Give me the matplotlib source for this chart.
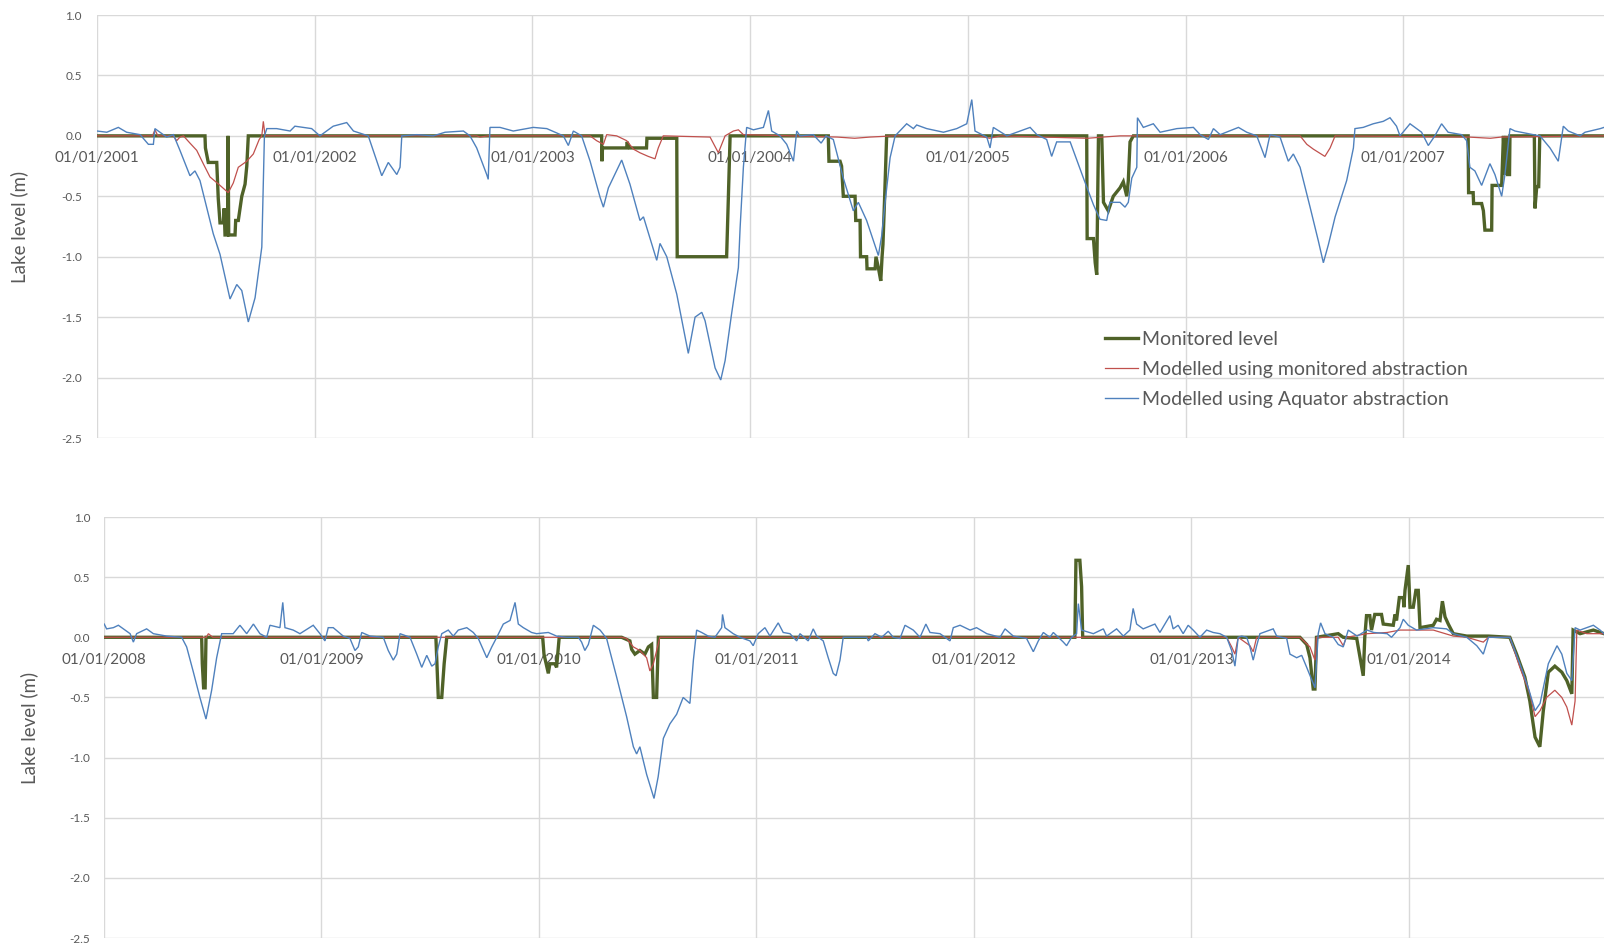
import numpy as np
import matplotlib
matplotlib.use('Agg')
import matplotlib.pyplot as plt

# (decimal year, lake level in m)
monitored_0107 = [
    (2001.000, 0.0), (2001.496, 0.0), (2001.498, -0.10), (2001.511, -0.22), (2001.550, -0.22),
    (2001.557, -0.52), (2001.565, -0.72), (2001.580, -0.72), (2001.584, -0.60), (2001.588, -0.82),
    (2001.600, -0.82), (2001.602, 0.0), (2001.605, -0.82), (2001.634, -0.82), (2001.637, -0.70),
    (2001.649, -0.70), (2001.657, -0.60), (2001.665, -0.50), (2001.680, -0.40), (2001.688, -0.25),
    (2001.695, 0.0),
    (2003.318, 0.0), (2003.319, -0.21), (2003.322, -0.10), (2003.433, -0.10), (2003.435, -0.05),
    (2003.445, -0.10), (2003.524, -0.10), (2003.526, -0.02), (2003.663, -0.02), (2003.665, -1.0),
    (2003.892, -1.0), (2003.900, -0.51), (2003.908, 0.0),
    (2004.359, 0.0), (2004.362, -0.21), (2004.413, -0.21), (2004.420, -0.25), (2004.428, -0.50),
    (2004.482, -0.50), (2004.485, -0.70), (2004.505, -0.70), (2004.507, -1.0), (2004.535, -1.0),
    (2004.537, -1.10), (2004.574, -1.10), (2004.578, -1.0), (2004.590, -1.10), (2004.600, -1.20),
    (2004.606, -1.0), (2004.610, -0.90), (2004.617, -0.55), (2004.627, 0.0),
    (2005.546, 0.0), (2005.548, -0.85), (2005.577, -0.85), (2005.585, -1.05), (2005.592, -1.15),
    (2005.600, 0.0), (2005.615, 0.0), (2005.623, -0.55), (2005.645, -0.62), (2005.668, -0.50),
    (2005.699, -0.43), (2005.714, -0.38), (2005.730, -0.50), (2005.737, -0.37), (2005.745, -0.05),
    (2005.760, 0.0),
    (2007.298, 0.0), (2007.300, -0.47), (2007.321, -0.47), (2007.323, -0.56), (2007.360, -0.56),
    (2007.368, -0.62), (2007.375, -0.78), (2007.406, -0.78), (2007.408, -0.41), (2007.452, -0.41),
    (2007.460, 0.0), (2007.467, -0.32), (2007.474, 0.0), (2007.479, -0.32), (2007.488, -0.32),
    (2007.490, 0.0), (2007.602, 0.0), (2007.605, -0.60), (2007.613, -0.42), (2007.622, -0.42),
    (2007.627, 0.0), (2007.922, 0.0),
]

modelled_mon_0107 = [
    (2001.000, 0.0), (2001.255, 0.0), (2001.266, 0.05), (2001.280, 0.0), (2001.351, 0.0),
    (2001.366, -0.04), (2001.381, -0.01), (2001.397, 0.0), (2001.427, -0.06), (2001.458, -0.12),
    (2001.488, -0.23), (2001.519, -0.34), (2001.565, -0.41), (2001.603, -0.47), (2001.626, -0.39),
    (2001.649, -0.26), (2001.688, -0.21), (2001.718, -0.15), (2001.745, -0.03), (2001.757, 0.0),
    (2001.764, 0.12), (2001.772, 0.0),
    (2002.744, 0.0), (2002.759, -0.01), (2002.797, 0.0),
    (2003.265, 0.0), (2003.295, -0.04), (2003.326, -0.07), (2003.341, 0.01), (2003.387, 0.0),
    (2003.433, -0.04), (2003.464, -0.11), (2003.494, -0.14), (2003.532, -0.17), (2003.563, -0.19),
    (2003.578, -0.10), (2003.601, 0.0), (2003.816, -0.01), (2003.854, -0.14), (2003.885, 0.0),
    (2003.923, 0.04), (2003.946, 0.05), (2003.969, 0.01),
    (2004.400, -0.01), (2004.480, -0.02), (2004.550, -0.01), (2004.660, 0.0), (2005.050, 0.0),
    (2005.100, -0.02), (2005.150, 0.0), (2005.550, -0.02), (2005.620, -0.01), (2005.700, 0.0),
    (2006.526, 0.0), (2006.557, -0.07), (2006.587, -0.11), (2006.640, -0.17), (2006.664, -0.10),
    (2006.687, 0.0), (2007.300, -0.01), (2007.400, -0.02), (2007.450, -0.01), (2007.922, 0.0),
]

aquator_0107 = [
    (2001.000, 0.04), (2001.045, 0.03), (2001.098, 0.07), (2001.136, 0.03), (2001.198, 0.01),
    (2001.236, -0.07), (2001.259, -0.07), (2001.266, 0.06), (2001.305, 0.01), (2001.320, -0.01),
    (2001.351, 0.01), (2001.381, -0.12), (2001.427, -0.33), (2001.450, -0.29), (2001.473, -0.37),
    (2001.534, -0.81), (2001.565, -0.98), (2001.611, -1.35), (2001.642, -1.23), (2001.665, -1.28),
    (2001.695, -1.54), (2001.726, -1.34), (2001.757, -0.92), (2001.769, 0.0), (2001.780, 0.06),
    (2001.825, 0.06), (2001.887, 0.04), (2001.909, 0.08), (2001.986, 0.06), (2002.024, 0.0),
    (2002.085, 0.08), (2002.147, 0.11), (2002.178, 0.04), (2002.246, 0.0), (2002.308, -0.33),
    (2002.338, -0.22), (2002.377, -0.32), (2002.392, -0.26), (2002.400, 0.0), (2002.469, 0.01),
    (2002.545, 0.0), (2002.599, 0.03), (2002.683, 0.04), (2002.713, 0.0), (2002.744, -0.10),
    (2002.790, -0.32), (2002.797, -0.36), (2002.805, 0.07), (2002.851, 0.07), (2002.912, 0.04),
    (2003.004, 0.07), (2003.066, 0.06), (2003.142, 0.0), (2003.165, -0.08), (2003.188, 0.04),
    (2003.226, 0.0), (2003.265, -0.21), (2003.311, -0.51), (2003.326, -0.59), (2003.349, -0.43),
    (2003.410, -0.20), (2003.448, -0.40), (2003.494, -0.70), (2003.510, -0.67), (2003.571, -1.03),
    (2003.586, -0.89), (2003.617, -1.00), (2003.663, -1.31), (2003.716, -1.80), (2003.747, -1.50),
    (2003.778, -1.46), (2003.793, -1.53), (2003.839, -1.92), (2003.865, -2.02), (2003.885, -1.86),
    (2003.915, -1.47), (2003.946, -1.09), (2003.954, -0.76), (2003.969, -0.26), (2003.984, 0.07),
    (2004.015, 0.05), (2004.061, 0.07), (2004.084, 0.21), (2004.099, 0.04), (2004.137, 0.0),
    (2004.168, -0.07), (2004.199, -0.21), (2004.214, 0.04), (2004.229, 0.0), (2004.290, 0.01),
    (2004.326, -0.06), (2004.349, 0.0), (2004.382, -0.03), (2004.428, -0.35), (2004.474, -0.62),
    (2004.497, -0.55), (2004.535, -0.70), (2004.589, -0.99), (2004.604, -0.83), (2004.620, -0.55),
    (2004.643, -0.18), (2004.666, 0.0), (2004.719, 0.10), (2004.750, 0.06), (2004.765, 0.09),
    (2004.811, 0.06), (2004.888, 0.03), (2004.949, 0.06), (2004.995, 0.10), (2005.018, 0.30),
    (2005.033, 0.04), (2005.087, -0.01), (2005.102, -0.10), (2005.117, 0.07), (2005.179, 0.0),
    (2005.286, 0.07), (2005.317, 0.01), (2005.362, -0.03), (2005.385, -0.17), (2005.408, -0.05),
    (2005.470, -0.05), (2005.531, -0.35), (2005.577, -0.57), (2005.607, -0.69), (2005.638, -0.70),
    (2005.653, -0.55), (2005.699, -0.55), (2005.722, -0.59), (2005.737, -0.55), (2005.753, -0.35),
    (2005.776, -0.26), (2005.779, 0.15), (2005.806, 0.07), (2005.852, 0.10), (2005.883, 0.03),
    (2005.960, 0.06), (2006.036, 0.07), (2006.067, 0.01), (2006.105, -0.03), (2006.128, 0.06),
    (2006.159, 0.01), (2006.243, 0.07), (2006.281, 0.03), (2006.327, 0.0), (2006.365, -0.18),
    (2006.388, 0.01), (2006.434, -0.01), (2006.472, -0.21), (2006.495, -0.15), (2006.526, -0.26),
    (2006.572, -0.59), (2006.610, -0.87), (2006.633, -1.05), (2006.656, -0.90), (2006.687, -0.67),
    (2006.740, -0.37), (2006.771, -0.10), (2006.778, 0.06), (2006.816, 0.07), (2006.862, 0.10),
    (2006.908, 0.12), (2006.939, 0.15), (2006.969, 0.08), (2006.985, 0.0), (2007.031, 0.10),
    (2007.084, 0.03), (2007.115, -0.08), (2007.145, 0.0), (2007.176, 0.10), (2007.206, 0.03),
    (2007.268, 0.01), (2007.291, -0.04), (2007.306, -0.26), (2007.329, -0.29), (2007.360, -0.41),
    (2007.398, -0.23), (2007.421, -0.32), (2007.452, -0.50), (2007.467, -0.32), (2007.490, 0.06),
    (2007.513, 0.04), (2007.597, 0.01), (2007.628, 0.0), (2007.674, -0.10), (2007.712, -0.21),
    (2007.735, 0.08), (2007.758, 0.04), (2007.812, 0.0), (2007.835, 0.03), (2007.905, 0.06),
    (2007.922, 0.07),
]

monitored_0814 = [
    (2008.000, 0.0), (2008.449, 0.0), (2008.452, -0.22), (2008.458, -0.42), (2008.465, -0.42),
    (2008.469, 0.0), (2009.526, 0.0), (2009.537, -0.50), (2009.553, -0.50), (2009.564, -0.22),
    (2009.576, 0.0), (2010.017, 0.0), (2010.023, -0.14), (2010.043, -0.30), (2010.050, -0.22),
    (2010.073, -0.22), (2010.081, -0.25), (2010.093, 0.0), (2010.380, 0.0), (2010.418, -0.03),
    (2010.426, -0.10), (2010.441, -0.14), (2010.464, -0.11), (2010.487, -0.14), (2010.503, -0.08),
    (2010.518, -0.06), (2010.526, -0.50), (2010.541, -0.50), (2010.549, 0.0),
    (2012.464, 0.0), (2012.469, 0.64), (2012.487, 0.64), (2012.495, 0.42), (2012.500, 0.0),
    (2013.499, 0.0), (2013.530, -0.06), (2013.545, -0.17), (2013.560, -0.43), (2013.568, -0.43),
    (2013.575, 0.0), (2013.675, 0.03), (2013.698, 0.0), (2013.760, -0.01), (2013.790, -0.32),
    (2013.797, 0.0), (2013.805, 0.18), (2013.820, 0.18), (2013.828, 0.06), (2013.843, 0.19),
    (2013.874, 0.19), (2013.882, 0.11), (2013.928, 0.10), (2013.936, 0.19), (2013.943, 0.14),
    (2013.956, 0.33), (2013.974, 0.33), (2013.977, 0.25), (2013.982, 0.39), (2013.997, 0.60),
    (2014.005, 0.25), (2014.020, 0.25), (2014.032, 0.39), (2014.043, 0.39), (2014.051, 0.08),
    (2014.112, 0.10), (2014.127, 0.15), (2014.143, 0.14), (2014.154, 0.30), (2014.166, 0.17),
    (2014.181, 0.11), (2014.204, 0.03), (2014.266, 0.01), (2014.366, 0.01), (2014.464, 0.0),
    (2014.495, -0.14), (2014.533, -0.33), (2014.556, -0.53), (2014.580, -0.83), (2014.602, -0.91),
    (2014.618, -0.61), (2014.641, -0.29), (2014.671, -0.24), (2014.703, -0.29), (2014.726, -0.36),
    (2014.749, -0.47), (2014.755, 0.06), (2014.787, 0.03), (2014.848, 0.06), (2014.897, 0.03),
]

modelled_mon_0814 = [
    (2008.000, 0.0), (2008.470, 0.0), (2008.480, 0.03), (2008.500, 0.0), (2010.380, 0.0),
    (2010.403, -0.01), (2010.434, -0.08), (2010.464, -0.11), (2010.495, -0.17), (2010.510, -0.28),
    (2010.526, -0.22), (2010.548, -0.06), (2010.556, 0.0), (2013.162, 0.0), (2013.185, -0.08),
    (2013.200, -0.14), (2013.215, 0.0), (2013.269, -0.07), (2013.284, -0.12), (2013.300, 0.0),
    (2013.499, 0.0), (2013.545, -0.08), (2013.568, -0.19), (2013.575, 0.0), (2013.675, 0.0),
    (2013.698, -0.07), (2013.713, 0.0), (2013.808, 0.03), (2013.900, 0.04), (2013.959, 0.06),
    (2014.035, 0.06), (2014.112, 0.06), (2014.204, 0.01), (2014.266, 0.0), (2014.342, -0.04),
    (2014.366, 0.0), (2014.464, 0.0), (2014.510, -0.25), (2014.556, -0.47), (2014.580, -0.66),
    (2014.603, -0.61), (2014.633, -0.50), (2014.671, -0.44), (2014.703, -0.50), (2014.726, -0.58),
    (2014.749, -0.73), (2014.764, -0.53), (2014.772, 0.06), (2014.818, 0.03), (2014.897, 0.03),
]

aquator_0814 = [
    (2008.001, 0.11), (2008.012, 0.07), (2008.043, 0.08), (2008.066, 0.10), (2008.097, 0.06),
    (2008.120, 0.03), (2008.135, -0.04), (2008.150, 0.03), (2008.196, 0.07), (2008.227, 0.03),
    (2008.288, 0.01), (2008.357, 0.0), (2008.380, -0.08), (2008.411, -0.29), (2008.441, -0.50),
    (2008.469, -0.68), (2008.495, -0.44), (2008.518, -0.17), (2008.541, 0.03), (2008.594, 0.03),
    (2008.625, 0.10), (2008.656, 0.03), (2008.687, 0.11), (2008.717, 0.03), (2008.748, 0.0),
    (2008.763, 0.10), (2008.809, 0.08), (2008.822, 0.29), (2008.832, 0.08), (2008.870, 0.06),
    (2008.901, 0.03), (2008.962, 0.10), (2008.993, 0.03), (2009.016, -0.03), (2009.031, 0.08),
    (2009.054, 0.08), (2009.100, 0.01), (2009.131, -0.01), (2009.154, -0.11), (2009.169, -0.08),
    (2009.185, 0.04), (2009.223, 0.01), (2009.284, 0.0), (2009.307, -0.11), (2009.330, -0.19),
    (2009.346, -0.14), (2009.361, 0.03), (2009.407, 0.0), (2009.438, -0.14), (2009.461, -0.25),
    (2009.484, -0.15), (2009.507, -0.24), (2009.522, -0.22), (2009.537, -0.08), (2009.553, 0.03),
    (2009.583, 0.06), (2009.606, 0.01), (2009.629, 0.06), (2009.668, 0.08), (2009.698, 0.04),
    (2009.721, -0.01), (2009.760, -0.17), (2009.783, -0.08), (2009.806, 0.0), (2009.836, 0.11),
    (2009.867, 0.14), (2009.890, 0.29), (2009.905, 0.11), (2009.928, 0.08), (2009.966, 0.04),
    (2009.989, 0.03), (2010.043, 0.04), (2010.081, 0.01), (2010.128, 0.0), (2010.181, 0.0),
    (2010.196, -0.04), (2010.211, -0.11), (2010.227, -0.06), (2010.250, 0.10), (2010.281, 0.06),
    (2010.311, -0.01), (2010.357, -0.33), (2010.403, -0.66), (2010.434, -0.91), (2010.449, -0.97),
    (2010.464, -0.91), (2010.495, -1.14), (2010.529, -1.34), (2010.548, -1.16), (2010.572, -0.84),
    (2010.602, -0.72), (2010.633, -0.64), (2010.663, -0.50), (2010.694, -0.55), (2010.710, -0.19),
    (2010.725, 0.06), (2010.748, 0.04), (2010.778, 0.01), (2010.809, 0.0), (2010.840, 0.08),
    (2010.844, 0.19), (2010.855, 0.08), (2010.893, 0.03), (2010.924, 0.0), (2010.970, -0.03),
    (2010.985, -0.07), (2011.008, 0.03), (2011.039, 0.08), (2011.062, 0.01), (2011.100, 0.12),
    (2011.123, 0.04), (2011.154, 0.03), (2011.185, -0.03), (2011.200, 0.03), (2011.238, -0.03),
    (2011.261, 0.07), (2011.277, 0.01), (2011.307, -0.03), (2011.330, -0.17), (2011.353, -0.30),
    (2011.366, -0.32), (2011.384, -0.19), (2011.399, 0.0), (2011.430, 0.0), (2011.507, 0.0),
    (2011.514, -0.03), (2011.545, 0.03), (2011.576, 0.0), (2011.606, 0.05), (2011.629, 0.0),
    (2011.660, -0.01), (2011.683, 0.10), (2011.721, 0.06), (2011.752, 0.0), (2011.779, 0.11),
    (2011.798, 0.04), (2011.844, 0.03), (2011.890, -0.03), (2011.905, 0.08), (2011.936, 0.10),
    (2011.959, 0.08), (2011.982, 0.06), (2012.012, 0.08), (2012.059, 0.03), (2012.120, 0.0),
    (2012.143, 0.07), (2012.181, 0.01), (2012.242, -0.01), (2012.273, -0.12), (2012.296, -0.03),
    (2012.319, 0.04), (2012.349, 0.0), (2012.365, 0.04), (2012.411, -0.04), (2012.426, -0.07),
    (2012.449, 0.0), (2012.472, 0.03), (2012.480, 0.28), (2012.495, 0.06), (2012.549, 0.03),
    (2012.595, 0.07), (2012.610, 0.01), (2012.656, 0.07), (2012.687, 0.01), (2012.717, 0.06),
    (2012.732, 0.24), (2012.748, 0.11), (2012.778, 0.07), (2012.832, 0.11), (2012.855, 0.04),
    (2012.901, 0.18), (2012.916, 0.07), (2012.939, 0.10), (2012.962, 0.03), (2012.985, 0.10),
    (2013.008, 0.06), (2013.039, 0.0), (2013.070, 0.06), (2013.100, 0.04), (2013.131, 0.03),
    (2013.162, 0.0), (2013.185, -0.11), (2013.200, -0.24), (2013.215, 0.0), (2013.231, 0.01),
    (2013.254, 0.0), (2013.269, -0.08), (2013.284, -0.19), (2013.300, -0.07), (2013.315, 0.03),
    (2013.376, 0.07), (2013.392, 0.01), (2013.438, -0.01), (2013.453, -0.14), (2013.484, -0.17),
    (2013.507, -0.15), (2013.530, -0.25), (2013.568, -0.42), (2013.583, 0.03), (2013.594, 0.12),
    (2013.614, 0.03), (2013.652, 0.0), (2013.675, -0.06), (2013.698, -0.08), (2013.721, 0.06),
    (2013.762, 0.01), (2013.808, 0.06), (2013.838, 0.04), (2013.900, 0.03), (2013.920, 0.0),
    (2013.959, 0.08), (2013.974, 0.15), (2013.997, 0.10), (2014.035, 0.06), (2014.112, 0.08),
    (2014.173, 0.07), (2014.204, 0.03), (2014.266, 0.0), (2014.312, -0.07), (2014.342, -0.14),
    (2014.366, 0.0), (2014.464, 0.0), (2014.510, -0.22), (2014.549, -0.42), (2014.580, -0.61),
    (2014.603, -0.55), (2014.641, -0.22), (2014.681, -0.07), (2014.703, -0.14), (2014.726, -0.30),
    (2014.749, -0.36), (2014.764, 0.08), (2014.787, 0.06), (2014.818, 0.08), (2014.848, 0.10),
    (2014.879, 0.06), (2014.897, 0.03),
]

years_top = list(range(2001, 2008))
years_bottom = list(range(2008, 2015))
y_ticks = [1.0, 0.5, 0.0, -0.5, -1.0, -1.5, -2.0, -2.5]

GREEN = '#4f6228'
RED = '#c0504d'
BLUE = '#4f81bd'
GREY_TXT = '#595959'
GRID = '#d9d9d9'

plt.rcParams['font.family'] = ['Lato', 'DejaVu Sans']


def draw_panel(ax, monitored, modelled, aquator, years, xmax, label_x, ypad):
    for series, color, lw, name in [
        (monitored, GREEN, 2.4, 'Monitored level'),
        (modelled, RED, 0.9, 'Modelled using monitored abstraction'),
        (aquator, BLUE, 1.0, 'Modelled using Aquator abstraction'),
    ]:
        arr = np.array(series)
        ax.plot(arr[:, 0], arr[:, 1], color=color, lw=lw, label=name,
                solid_joinstyle='miter')

    ax.set_xlim(years[0], xmax)
    ax.set_ylim(-2.5, 1.0)
    ax.set_yticks(y_ticks)
    ax.set_yticklabels([f'{v:.1f}' for v in y_ticks])
    ax.set_xticks(years)
    ax.set_xticklabels([f'01/01/{y}' for y in years])

    ax.grid(True, color=GRID, lw=1.0)
    ax.set_axisbelow(True)
    for side in ['top', 'right', 'left']:
        ax.spines[side].set_visible(False)
    ax.spines['bottom'].set_position(('data', 0))
    ax.spines['bottom'].set_color('none')

    ax.tick_params(axis='x', length=0, pad=11, labelsize=11, labelcolor=GREY_TXT)
    ax.tick_params(axis='y', length=0, pad=ypad, labelsize=8.5, labelcolor=GREY_TXT)
    ax.set_ylabel('Lake level (m)', fontsize=13.5, color=GREY_TXT)
    ax.yaxis.set_label_coords(label_x, 0.5)


W, H = 1604, 946
fig = plt.figure(figsize=(W / 100, H / 100), dpi=100)

ax_top = fig.add_axes([97 / W, 1 - 438 / H, (W - 97) / W, (438 - 15) / H])
draw_panel(ax_top, monitored_0107, modelled_mon_0107, aquator_0107,
           years_top, 2007.922, -0.046, 11)

ax_bot = fig.add_axes([104 / W, 1 - 938 / H, (W - 104) / W, (938 - 517) / H])
draw_panel(ax_bot, monitored_0814, modelled_mon_0814, aquator_0814,
           years_bottom, 2014.897, -0.044, 10)

leg = ax_top.legend(loc='upper left', bbox_to_anchor=(1105 / W, 1 - 331 / H),
                    bbox_transform=fig.transFigure, frameon=False, fontsize=14,
                    handlelength=1.7, handletextpad=0.2, labelspacing=0.66,
                    borderpad=0, borderaxespad=0)
for t in leg.get_texts():
    t.set_color(GREY_TXT)

fig.savefig('out.png', dpi=100)
